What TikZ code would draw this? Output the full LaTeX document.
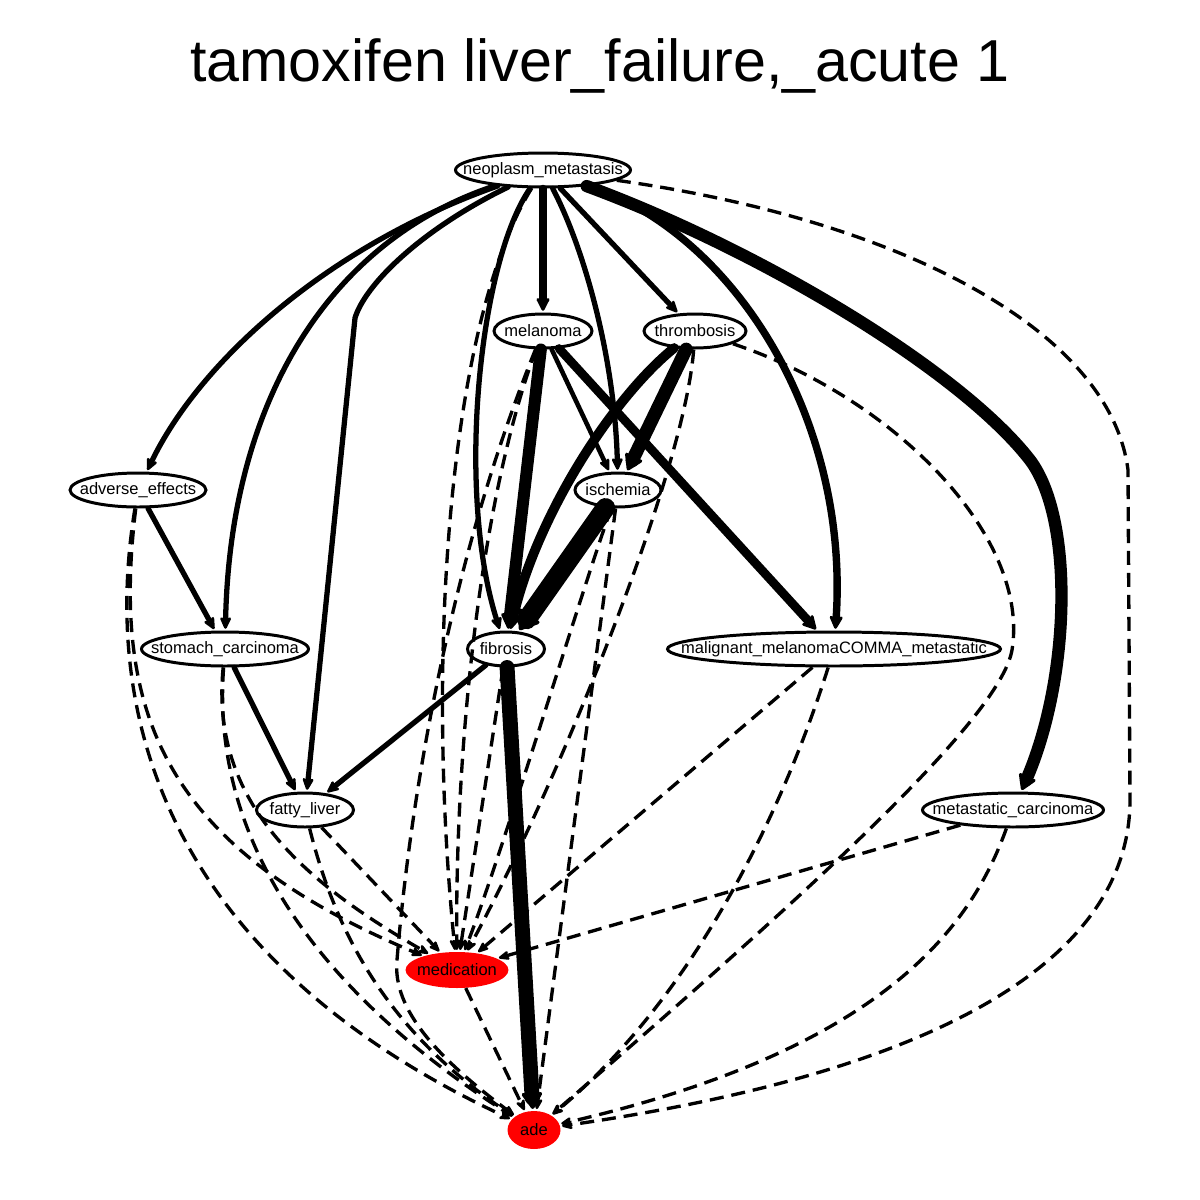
\documentclass[tikz,border=0pt]{standalone}
\usepackage{fontspec}
\setmainfont{Liberation Sans}
\usetikzlibrary{shapes.geometric,arrows.meta}
\begin{document}
\begin{tikzpicture}[x=0.02cm,y=-0.02cm,
  nd/.style={ellipse, draw, line width=1.7pt, fill=white, inner sep=0pt, minimum height=0.68cm, font=\fontsize{9.4}{11}\selectfont},
  rd/.style={ellipse, fill=red, inner sep=0pt, font=\fontsize{9.4}{11}\selectfont},
  ed/.style={line width=#1, line cap=round, -{Stealth[length=7.5pt 0.5, width=4.5pt 1.25, round]}, shorten >=1pt},
  ed/.default=3pt,
  dsh/.style={line width=1.9pt, dash pattern=on 8pt off 4.5pt, -{Stealth[length=7.5pt 0.5, width=4.5pt 1.25, round]}, shorten >=1pt}
]
\fill[white] (0,0) rectangle (1200,1200);
\useasboundingbox (0,0) rectangle (1200,1200);

\node (title) at (600,66) {\fontsize{33.7}{40}\selectfont tamoxifen liver\_failure,\_acute 1};

\node[nd, minimum width=3.5cm]  (neo) at (543,170) {\makebox[0pt]{neoplasm\_metastasis}};
\node[nd, minimum width=1.96cm] (mel) at (543,331) {\makebox[0pt]{melanoma}};
\node[nd, minimum width=2.04cm] (thr) at (695,331) {\makebox[0pt]{thrombosis}};
\node[nd, minimum width=2.72cm] (adv) at (138,490) {\makebox[0pt]{adverse\_effects}};
\node[nd, minimum width=1.72cm] (isc) at (618,490) {\makebox[0pt]{ischemia}};
\node[nd, minimum width=3.34cm] (sto) at (225,649) {\makebox[0pt]{stomach\_carcinoma}};
\node[nd, minimum width=1.54cm] (fib) at (506,649) {\makebox[0pt]{fibrosis}};
\node[nd, minimum width=6.66cm] (mal) at (834,649) {\makebox[0pt]{malignant\_melanomaCOMMA\_metastatic}};
\node[nd, minimum width=1.94cm] (fat) at (305,810) {\makebox[0pt]{fatty\_liver}};
\node[nd, minimum width=3.62cm] (met) at (1013,810) {\makebox[0pt]{metastatic\_carcinoma}};
\node[rd, minimum width=2.06cm, minimum height=0.72cm] (med) at (457,970) {\makebox[0pt]{medication}};
\node[rd, minimum width=1.06cm, minimum height=0.76cm] (ade) at (534,1130) {\makebox[0pt]{ade}};

% solid edges
\draw[ed] (neo) .. controls (330,245) and (200,360) .. (adv);
\draw[ed] (neo) .. controls (330,240) and (230,400) .. (sto);
\draw[ed] (neo) .. controls (420,230) and (365,285) .. (355,318) -- (fat);
\draw[ed] (neo) .. controls (480,260) and (455,490) .. (fib);
\draw[ed=4.2pt] (neo) -- (mel);
\draw[ed] (neo) .. controls (585,250) and (615,360) .. (isc);
\draw[ed] (neo) -- (thr);
\draw[ed=4.2pt] (neo) .. controls (735,235) and (850,420) .. (mal);
\draw[ed=7pt] (neo) .. controls (760,250) and (960,370) .. (1030,460) .. controls (1075,520) and (1070,680) .. (met);
\draw[ed=6.8pt] (mel) -- (fib);
\draw[ed=2.6pt] (mel) -- (isc);
\draw[ed=5pt] (mel) -- (mal);
\draw[ed=7.5pt] (thr) -- (isc);
\draw[ed=5.5pt] (thr) .. controls (610,400) and (535,520) .. (fib);
\draw[ed=11pt] (isc) -- (fib);
\draw[ed] (adv) -- (sto);
\draw[ed] (sto) -- (fat);
\draw[ed] (fib) -- (fat);
\draw[ed=8.5pt] (fib) -- (ade);

% dashed edges
\draw[dsh] (neo) .. controls (450,320) and (425,650) .. (med);
\draw[dsh] (mel) .. controls (480,500) and (455,750) .. (med);
\draw[dsh] (mel) .. controls (450,560) and (410,800) .. (397,960) .. controls (392,1010) and (440,1060) .. (ade);
\draw[dsh] (thr) .. controls (685,470) and (560,780) .. (med);
\draw[dsh] (isc) .. controls (585,580) and (500,860) .. (med);
\draw[dsh] (isc) -- (ade);
\draw[dsh] (fib) -- (med);
\draw[dsh] (mal) -- (med);
\draw[dsh] (mal) .. controls (780,820) and (690,1000) .. (ade);
\draw[dsh] (thr) .. controls (900,400) and (1030,540) .. (1012,650) .. controls (1000,720) and (800,900) .. (ade);
\draw[dsh] (neo) .. controls (900,220) and (1110,330) .. (1128,470) -- (1130,800) .. controls (1130,920) and (1020,1060) .. (ade);
\draw[dsh] (met) .. controls (970,930) and (880,1050) .. (ade);
\draw[dsh] (met) -- (med);
\draw[dsh] (fat) -- (med);
\draw[dsh] (fat) .. controls (340,950) and (400,1040) .. (ade);
\draw[dsh] (med) -- (ade);
\draw[dsh] (adv) .. controls (110,720) and (170,850) .. (med);
\draw[dsh] (adv) .. controls (100,720) and (170,960) .. (ade);
\draw[dsh] (sto) .. controls (210,800) and (300,880) .. (med);
\draw[dsh] (sto) .. controls (210,850) and (330,1000) .. (ade);
\end{tikzpicture}
\end{document}
